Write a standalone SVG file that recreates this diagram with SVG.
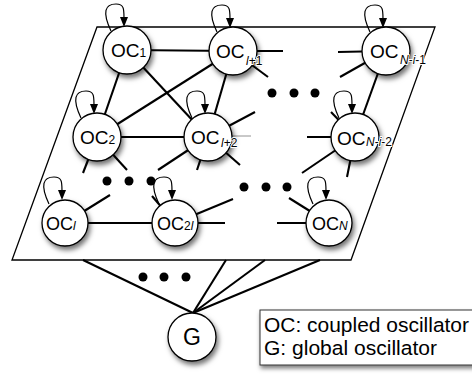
<svg xmlns="http://www.w3.org/2000/svg" width="472" height="374" viewBox="0 0 472 374">
<style>
.frame{fill:#fff;stroke:#000;stroke-width:1.3}
.ln{stroke:#000;stroke-width:2.1;stroke-linecap:butt;fill:none}
.thin{stroke:#777;stroke-width:0.8;fill:none}
.dot{fill:#000}
.nd{fill:#fff;stroke:#000;stroke-width:1.3;filter:url(#sh)}
.lp{fill:none;stroke:#000;stroke-width:1.2}
.ah{fill:#000}
.lb{font-family:"Liberation Sans",Arial,sans-serif;font-size:19px;fill:#000}
.sb{font-family:"Liberation Sans",Arial,sans-serif;font-size:12px;fill:#000}
.hal{stroke:#fff;stroke-width:2;paint-order:stroke;stroke-linejoin:round}
.it{font-style:italic}
.lg{font-family:"Liberation Sans",Arial,sans-serif;font-size:20.5px;fill:#000}
.box{fill:#fff;stroke:#333;stroke-width:1;filter:url(#sh2)}
</style>
<defs>
<filter id="sh" x="-50%" y="-50%" width="200%" height="200%">
<feDropShadow dx="2" dy="3.5" stdDeviation="2.5" flood-color="#000" flood-opacity="0.55"/>
</filter>
<filter id="sh2" x="-10%" y="-20%" width="120%" height="150%">
<feDropShadow dx="1" dy="3" stdDeviation="2" flood-color="#000" flood-opacity="0.5"/>
</filter>
<g id="loop">
<path class="lp" d="M -16 -19 C -25 -38, -22 -46, -11 -46 C -3 -46, -3 -41, -3 -32"/>
<polygon class="ah" points="-3,-23 -7,-33 1,-33"/>
</g>
</defs>
<polygon class="frame" points="97,27 435,27 351,260 12,260"/>
<g id="connectors">
<line class="ln" x1="127" y1="50" x2="233" y2="51"/>
<line class="ln" x1="127" y1="50" x2="97" y2="137"/>
<line class="ln" x1="127" y1="50" x2="208" y2="137"/>
<line class="ln" x1="233" y1="51" x2="97" y2="137"/>
<line class="ln" x1="233" y1="51" x2="208" y2="137"/>
<line class="ln" x1="97" y1="137" x2="208" y2="137"/>
<line class="ln" x1="233" y1="51" x2="283" y2="51"/>
<line class="ln" x1="233" y1="51" x2="268" y2="77"/>
<line class="ln" x1="386" y1="51" x2="338" y2="52"/>
<line class="ln" x1="386" y1="51" x2="340" y2="77"/>
<line class="ln" x1="386" y1="51" x2="355" y2="137"/>
<line class="ln" x1="355" y1="137" x2="307" y2="137"/>
<line class="ln" x1="355" y1="137" x2="331" y2="112"/>
<line class="ln" x1="355" y1="137" x2="302" y2="173"/>
<line class="ln" x1="355" y1="137" x2="347" y2="177"/>
<line class="ln" x1="208" y1="137" x2="255" y2="112"/>
<line class="thin" x1="230" y1="136" x2="251" y2="136"/>
<line class="ln" x1="208" y1="137" x2="158" y2="170"/>
<line class="ln" x1="208" y1="137" x2="197" y2="170"/>
<line class="ln" x1="208" y1="137" x2="240" y2="165"/>
<line class="ln" x1="97" y1="137" x2="83" y2="173"/>
<line class="ln" x1="97" y1="137" x2="127" y2="170"/>
<line class="ln" x1="65" y1="223" x2="110" y2="195"/>
<line class="ln" x1="65" y1="223" x2="175" y2="223"/>
<line class="ln" x1="175" y1="223" x2="152" y2="196"/>
<line class="ln" x1="175" y1="223" x2="233" y2="199"/>
<line class="ln" x1="175" y1="223" x2="225" y2="223"/>
<line class="ln" x1="329" y1="223" x2="277" y2="223"/>
<line class="ln" x1="329" y1="223" x2="289" y2="198"/>
<line class="ln" x1="193" y1="313" x2="83" y2="260"/>
<line class="ln" x1="193" y1="313" x2="226" y2="260"/>
<line class="ln" x1="193" y1="313" x2="265" y2="260"/>
<line class="ln" x1="193" y1="313" x2="320" y2="260"/>
</g>
<g id="dots">
<circle class="dot" cx="272" cy="93" r="4.5"/>
<circle class="dot" cx="294" cy="93" r="4.5"/>
<circle class="dot" cx="315" cy="93" r="4.5"/>
<circle class="dot" cx="107" cy="181" r="4.5"/>
<circle class="dot" cx="129" cy="181" r="4.5"/>
<circle class="dot" cx="151" cy="181" r="4.5"/>
<circle class="dot" cx="244" cy="187" r="4.5"/>
<circle class="dot" cx="266" cy="187" r="4.5"/>
<circle class="dot" cx="287" cy="187" r="4.5"/>
<circle class="dot" cx="143" cy="277" r="4.5"/>
<circle class="dot" cx="164" cy="277" r="4.5"/>
<circle class="dot" cx="186" cy="277" r="4.5"/>
</g>
<g id="oc1">
<circle class="nd" cx="127" cy="50" r="24"/>
<use href="#loop" x="127" y="50"/>
<text class="lb" x="111" y="57">OC<tspan class="sb">1</tspan></text>
</g>
<g id="ocl1">
<circle class="nd" cx="233" cy="51" r="24"/>
<use href="#loop" x="233" y="51"/>
<text class="lb" x="216" y="58">OC</text>
<text class="sb hal" x="246" y="65"><tspan class="it">l</tspan>+1</text>
</g>
<g id="ocni1">
<circle class="nd" cx="386" cy="51" r="24"/>
<use href="#loop" x="386" y="51"/>
<text class="lb" x="370" y="58">OC</text>
<text class="sb hal" x="400" y="64"><tspan class="it">N</tspan>-<tspan class="it">i</tspan>-1</text>
</g>
<g id="oc2">
<circle class="nd" cx="97" cy="137" r="24"/>
<use href="#loop" x="97" y="137"/>
<text class="lb" x="80" y="144">OC<tspan class="sb">2</tspan></text>
</g>
<g id="ocl2">
<circle class="nd" cx="208" cy="137" r="24"/>
<use href="#loop" x="208" y="137"/>
<text class="lb" x="191" y="144">OC</text>
<text class="sb hal" x="221" y="147"><tspan class="it">l</tspan>+2</text>
</g>
<g id="ocni2">
<circle class="nd" cx="355" cy="137" r="24"/>
<use href="#loop" x="355" y="137"/>
<text class="lb" x="337" y="145">OC</text>
<text class="sb hal" x="366" y="146"><tspan class="it">N</tspan>-<tspan class="it">i</tspan>-2</text>
</g>
<g id="ocl">
<circle class="nd" cx="65" cy="223" r="23"/>
<use href="#loop" x="65" y="223"/>
<text class="lb" x="46" y="230" style="font-size:18px">OC<tspan class="sb it">l</tspan></text>
</g>
<g id="oc2l">
<circle class="nd" cx="175" cy="223" r="23"/>
<use href="#loop" x="175" y="223"/>
<text class="lb" x="157" y="230" style="font-size:18px">OC<tspan class="sb">2<tspan class="it">l</tspan></tspan></text>
</g>
<g id="ocn">
<circle class="nd" cx="329" cy="223" r="23"/>
<use href="#loop" x="329" y="223"/>
<text class="lb" x="312" y="230" style="font-size:18px">OC<tspan class="sb it">N</tspan></text>
</g>
<g id="g">
<circle class="nd" cx="192" cy="337" r="24"/>
<text class="lb" x="192" y="345" text-anchor="middle" style="font-size:23px">G</text>
</g>
<g id="legend">
<rect class="box" x="260" y="310" width="220" height="55"/>
<text class="lg" x="264" y="332" textLength="205" lengthAdjust="spacingAndGlyphs">OC: coupled oscillator</text>
<text class="lg" x="264" y="355" textLength="173" lengthAdjust="spacingAndGlyphs">G: global oscillator</text>
</g>
</svg>
